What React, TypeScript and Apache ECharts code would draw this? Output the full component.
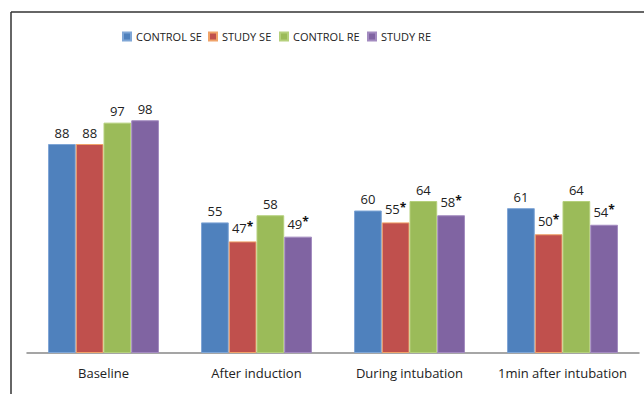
import React, { useEffect, useRef } from "react";
import * as echarts from "echarts";

const categories = ["Baseline", "After induction", "During intubation", "1min after intubation"];
const seriesNames = ["CONTROL SE", "STUDY SE", "CONTROL RE", "STUDY RE"];
const controlSE = [88, 55, 60, 61];
const studySE = [88, 47, 55, 50];
const controlRE = [97, 58, 64, 64];
const studyRE = [98, 49, 58, 54];
// significance marks (asterisk) per category for the study groups
const studySEStar = [false, true, true, true];
const studyREStar = [false, true, true, true];

const colors = ["#4F81BD", "#C0504D", "#9BBB59", "#8064A2"];
const borders = ["#7FA6D6", "#F0A36A", "#B5D07C", "#A38BC0"];
// left edge of each legend entry
const legendLeft = [117, 203, 274, 362];

const FONT = "'Open Sans', sans-serif";

export default function App() {
  const ref = useRef<HTMLDivElement>(null);

  useEffect(() => {
    if (!ref.current) return;
    const chart = echarts.init(ref.current, null, { renderer: "svg" });

    const mkSeries = (idx: number, values: number[], stars?: boolean[]) => ({
      name: seriesNames[idx],
      type: "bar",
      data: values,
      barGap: "0%",
      barCategoryGap: "27.5%",
      itemStyle: { color: colors[idx], borderColor: borders[idx], borderWidth: 1 },
      label: {
        show: true,
        position: "top",
        distance: 5,
        fontFamily: FONT,
        fontSize: 13,
        color: "#222",
        formatter: (p: any) =>
          stars && stars[p.dataIndex] ? `{v|${p.value}}{s|*}` : `{v|${p.value}}`,
        rich: {
          v: { fontFamily: FONT, fontSize: 13, color: "#222" },
          s: { fontFamily: FONT, fontSize: 12, fontWeight: "bold", color: "#111", verticalAlign: "top", padding: [0, 0, 4, 0] },
        },
      },
    });

    chart.setOption({
      animation: false,
      backgroundColor: "#fff",
      textStyle: { fontFamily: FONT },
      legend: seriesNames.map((name, i) => ({
        data: [name],
        left: legendLeft[i],
        top: 26,
        itemWidth: 8,
        itemHeight: 8,
        icon: "rect",
        textStyle: { fontFamily: FONT, fontSize: 11, color: "#222" },
      })),
      grid: { left: 27, right: 5, top: 68, bottom: 41, containLabel: false },
      xAxis: {
        type: "category",
        data: categories,
        axisLine: { lineStyle: { color: "#888", width: 1.5 } },
        axisTick: { show: false },
        axisLabel: { interval: 0, fontFamily: FONT, fontSize: 13, color: "#222", margin: 13 },
      },
      yAxis: {
        type: "value",
        min: 0,
        max: 120,
        show: false,
        splitLine: { show: false },
      },
      graphic: [
        { type: "line", shape: { x1: 11, y1: 12, x2: 11, y2: 394 }, style: { stroke: "#333", lineWidth: 1.5 } },
        { type: "line", shape: { x1: 11, y1: 12, x2: 644, y2: 12 }, style: { stroke: "#333", lineWidth: 1.5 } },
      ],
      series: [
        mkSeries(0, controlSE),
        mkSeries(1, studySE, studySEStar),
        mkSeries(2, controlRE),
        mkSeries(3, studyRE, studyREStar),
      ],
    });

    return () => chart.dispose();
  }, []);

  return (
    <div
      ref={ref}
      style={{ position: "fixed", left: 0, top: 0, width: 644, height: 394 }}
    />
  );
}
